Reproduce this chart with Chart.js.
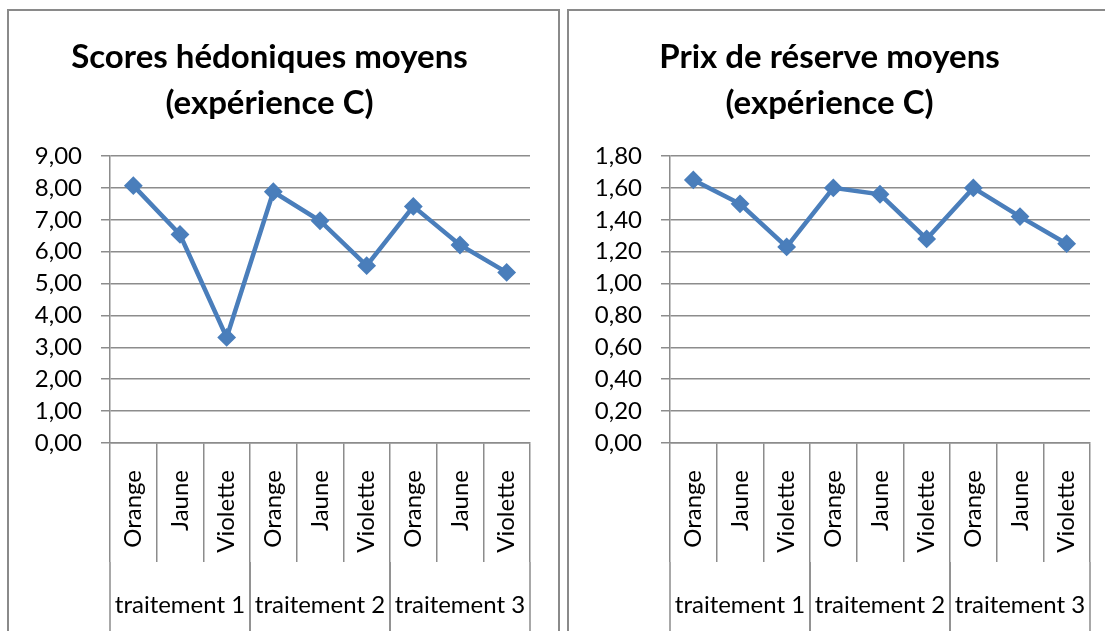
<!DOCTYPE html>
<html>
<head>
<meta charset="utf-8">
<script src="https://cdn.jsdelivr.net/npm/chart.js@4"></script>
<style>
  body { margin: 0; background: #fff; width: 1105px; height: 631px; overflow: hidden; position: relative; }
  .box { position: absolute; top: 9px; width: 549px; height: 700px; border: 2px solid #8a8a8a; }
  #box1 { left: 7px; }
  #box2 { left: 567px; }
  canvas { display: block; }
</style>
</head>
<body>
<div class="box" id="box1"><canvas id="scores" width="549" height="620"></canvas></div>
<div class="box" id="box2"><canvas id="prix" width="549" height="620"></canvas></div>
<script>
const categories = ['Orange', 'Jaune', 'Violette', 'Orange', 'Jaune', 'Violette', 'Orange', 'Jaune', 'Violette'];
const groups = ['traitement 1', 'traitement 2', 'traitement 3'];
const scores = [8.07, 6.54, 3.31, 7.88, 6.97, 5.56, 7.42, 6.21, 5.35];
const prix = [1.65, 1.50, 1.23, 1.60, 1.56, 1.28, 1.60, 1.42, 1.25];
const scoresTitle = ['Scores hédoniques moyens', '(expérience C)'];
const prixTitle = ['Prix de réserve moyens', '(expérience C)'];

const blue = '#4a7ebb';
const gridColor = '#8c8c8c';
const labelFont = { family: 'Lato', size: 24 };

// draws the second level of the category axis (traitement 1..3)
const groupPlugin = {
  id: 'groups',
  afterDraw(chart) {
    const x = chart.scales.x;
    const ctx = chart.ctx;
    const per = categories.length / groups.length;
    const half = (x.getPixelForValue(1) - x.getPixelForValue(0)) / 2;
    const lineTop = x.top + x.options.grid.tickLength;
    ctx.save();
    ctx.strokeStyle = gridColor;
    ctx.lineWidth = 1.5;
    ctx.fillStyle = '#000';
    ctx.font = labelFont.size + 'px ' + labelFont.family;
    ctx.textAlign = 'center';
    ctx.textBaseline = 'middle';
    groups.forEach(function (g, i) {
      const left = x.getPixelForValue(i * per) - half;
      const right = x.getPixelForValue(i * per + per - 1) + half;
      ctx.beginPath();
      ctx.moveTo(left, lineTop);
      ctx.lineTo(left, chart.height);
      ctx.moveTo(right, lineTop);
      ctx.lineTo(right, chart.height);
      ctx.stroke();
      ctx.fillText(g, (left + right) / 2, x.top + 162);
    });
    ctx.restore();
  }
};

function makeChart(id, title, values, max, step) {
  return new Chart(document.getElementById(id), {
    type: 'line',
    data: {
      labels: categories,
      datasets: [{
        data: values,
        borderColor: blue,
        backgroundColor: blue,
        borderWidth: 4.5,
        pointStyle: 'rectRot',
        pointRadius: 8,
        pointBorderWidth: 2,
        tension: 0
      }]
    },
    options: {
      responsive: false,
      animation: false,
      layout: { padding: { left: 0, right: 28, top: 0, bottom: 0 } },
      plugins: {
        legend: { display: false },
        tooltip: { enabled: false },
        title: {
          display: true,
          text: title,
          color: '#000',
          font: { family: 'Lato', size: 33, weight: 'bold', lineHeight: 46 / 33 },
          padding: { top: 23, bottom: 30 }
        }
      },
      scales: {
        x: {
          offset: true,
          grid: { offset: true, drawOnChartArea: false, tickLength: 119, color: gridColor, lineWidth: 1.5 },
          border: { color: gridColor, width: 1.5 },
          ticks: { autoSkip: false, minRotation: 90, maxRotation: 90, padding: -92, color: '#000', font: labelFont },
          afterFit(s) { s.height = 188; }
        },
        y: {
          min: 0,
          max: max,
          grid: { tickLength: 9, color: gridColor, lineWidth: 1.5 },
          border: { color: gridColor, width: 1.5 },
          ticks: {
            stepSize: step,
            padding: 19,
            color: '#000',
            font: labelFont,
            callback: v => v.toFixed(2).replace('.', ',')
          },
          afterFit(s) { s.width = 101; }
        }
      }
    },
    plugins: [groupPlugin]
  });
}

makeChart('scores', scoresTitle, scores, 9, 1);
makeChart('prix', prixTitle, prix, 1.8, 0.2);
</script>
</body>
</html>
